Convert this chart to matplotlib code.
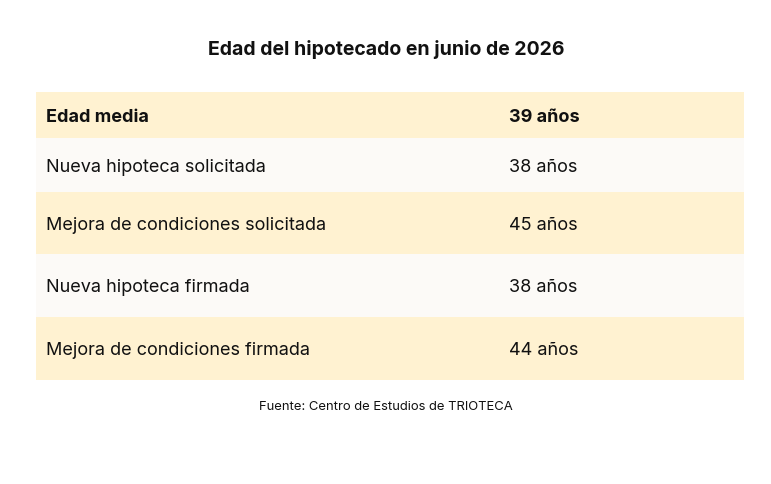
import matplotlib
matplotlib.use("Agg")
import matplotlib.pyplot as plt
from matplotlib.patches import Rectangle

plt.rcParams['font.family'] = ['Inter', 'DejaVu Sans']

title = "Edad del hipotecado en junio de 2026"
labels = ["Edad media", "Nueva hipoteca solicitada", "Mejora de condiciones solicitada",
          "Nueva hipoteca firmada", "Mejora de condiciones firmada"]
ages = [39, 38, 45, 38, 44]
source = "Fuente: Centro de Estudios de TRIOTECA"

row_edges = [92, 138, 192, 254, 317, 380]
row_colors = ["#FFF2D1", "#FCFAF7", "#FFF2D1", "#FCFAF7", "#FFF2D1"]

W, H = 771, 484
fig = plt.figure(figsize=(W / 100, H / 100), dpi=100)
ax = fig.add_axes([0, 0, 1, 1])
ax.set_xlim(0, W)
ax.set_ylim(H, 0)
ax.axis("off")

x0, x1 = 36, 744
fs = 13
cap = fs * 100 / 72 * 0.727
for i, (lab, age) in enumerate(zip(labels, ages)):
    top, bot = row_edges[i], row_edges[i + 1]
    ax.add_patch(Rectangle((x0, top), x1 - x0, bot - top, facecolor=row_colors[i], edgecolor="none"))
    yb = (top + bot) / 2 + cap / 2
    weight = "bold" if i == 0 else "normal"
    ax.text(46, yb, lab, fontsize=fs, fontweight=weight, color="#111111", va="baseline", ha="left")
    ax.text(509, yb, f"{age} años", fontsize=fs, fontweight=weight, color="#111111", va="baseline", ha="left")

tfs = 14
ax.text(386, 48 + tfs * 100 / 72 * 0.727 / 2, title, fontsize=tfs, fontweight="bold", color="#111111",
        ha="center", va="baseline")
sfs = 9.4
ax.text(386, 405 + sfs * 100 / 72 * 0.727 / 2, source, fontsize=sfs, color="#111111",
        ha="center", va="baseline")

fig.savefig("out.png", dpi=100, facecolor="white")
